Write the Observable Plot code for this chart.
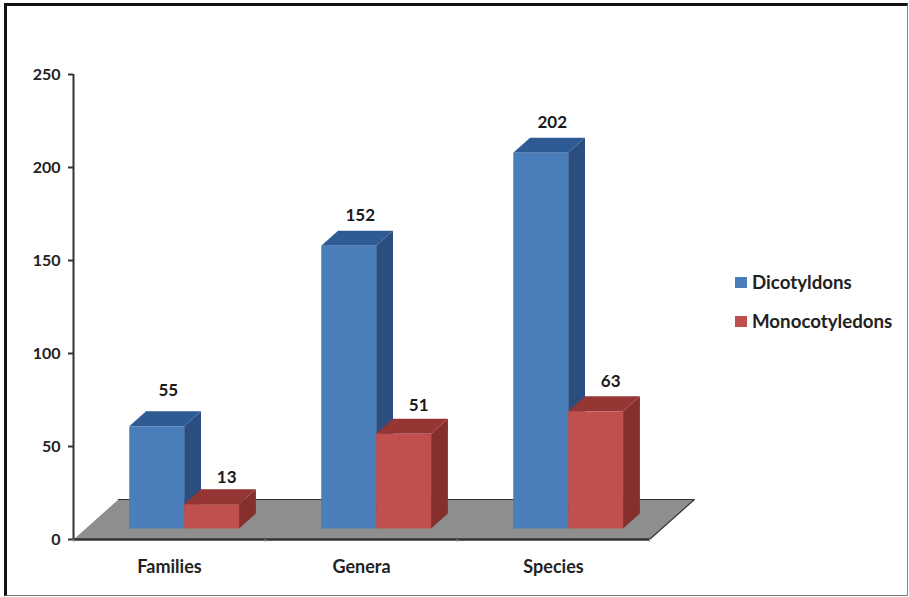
<!DOCTYPE html>
<html>
<head>
<meta charset="utf-8">
<script src="https://cdn.jsdelivr.net/npm/d3@7"></script>
<script src="https://cdn.jsdelivr.net/npm/@observablehq/plot@0.6"></script>
<style>
  html, body { margin: 0; background: #fff; }
  #chart { position: relative; width: 909px; height: 597px; overflow: hidden; font-family: Lato, sans-serif; }
  #chart svg { display: block; }
  #frame { position: absolute; left: 4px; top: 3px; right: 1px; bottom: 1px; pointer-events: none;
           border-left: 3px solid #111; border-top: 3px solid #111; border-right: 1px solid #888; border-bottom: 1px solid #777; }
  .key { position: absolute; left: 735px; display: flex; align-items: center; gap: 5px; font-weight: 700; font-size: 18.7px; color: #222; }
  .key i { display: block; width: 12px; height: 11px; }
</style>
</head>
<body>
<div id="chart"></div>
<script>
// Plant group counts by taxonomic rank
const categories = ["Families", "Genera", "Species"];
const dicotyledons = [55, 152, 202];
const monocotyledons = [13, 51, 63];
const yTicks = [0, 50, 100, 150, 200, 250];
const seriesNames = ["Dicotyldons", "Monocotyledons"];
const seriesValues = [dicotyledons, monocotyledons];

// Face colours per series: front, top, side
const faces = [
  {front: "#4a7ebb", top: "#2f5b95", side: "#2c4d7f"},
  {front: "#c0504d", top: "#963634", side: "#85302d"}
];
const floorColor = "#8e8e8e";

// Oblique projection: depth runs from the front (0) to the back (1) of the floor
const depthX = 0.234;   // category units per unit of depth
const depthY = 21.5;    // value units per unit of depth
const project = (x, v, d) => ({x: x + d * depthX, y: v + d * depthY});

const barWidth = 0.286;
const barStart = 0.226;
const barNear = 0.275;
const barFar = 0.65;

const polygon = (id, fill, corners) =>
  corners.map(([x, v, d]) => ({id, fill, ...project(x, v, d)}));

// Floor plane
const floor = polygon("floor", floorColor, [[0, 0, 0], [3, 0, 0], [3, 0, 1], [0, 0, 1]]);
const floorEdge = [project(0, 0, 1), project(3, 0, 1), project(3, 0, 0)];

// Each cluster from left to right so nearer faces overdraw
const shapes = [];
categories.forEach((_, c) => {
  seriesValues.forEach((values, s) => {
    const v = values[c];
    const x0 = c + barStart + s * barWidth;
    const x1 = x0 + barWidth;
    const key = `${c}-${s}`;
    shapes.push(...polygon(key + "side", faces[s].side, [[x1, 0, barNear], [x1, 0, barFar], [x1, v, barFar], [x1, v, barNear]]));
    shapes.push(...polygon(key + "top", faces[s].top, [[x0, v, barNear], [x1, v, barNear], [x1, v, barFar], [x0, v, barFar]]));
    shapes.push(...polygon(key + "front", faces[s].front, [[x0, 0, barNear], [x1, 0, barNear], [x1, v, barNear], [x0, v, barNear]]));
  });
});

// Value labels sit above the back edge of each bar's top face; a few get a small lift or drop
const labelLift = [[3, -1.5], [0, -0.8], [0, 0]];
const labelShift = [0, 0.018];
const labels = categories.flatMap((_, c) =>
  seriesValues.map((values, s) => {
    const p = project(c + barStart + s * barWidth + barWidth / 2 + labelShift[s], values[c], (barNear + barFar) / 2 + 0.07);
    return {x: p.x, y: values[c] + barFar * depthY + labelLift[c][s], text: String(values[c])};
  })
);

const plot = Plot.plot({
  width: 909,
  height: 597,
  marginLeft: 73,
  marginRight: 260,
  marginTop: 74,
  marginBottom: 58,
  style: {background: "#fff", fontFamily: "Lato, sans-serif"},
  x: {domain: [0, 3], label: null},
  y: {domain: [0, 250], label: null},
  color: {type: "identity"},
  marks: [
    Plot.line(floor, {x: "x", y: "y", z: "id", fill: "fill", stroke: "none", curve: "linear-closed"}),
    Plot.line(floorEdge, {x: "x", y: "y", stroke: "#333", strokeWidth: 1.2}),
    Plot.line(shapes, {x: "x", y: "y", z: "id", fill: "fill", stroke: "none", curve: "linear-closed"}),
    Plot.ruleX([0], {y1: 0, y2: 250, stroke: "#333", strokeWidth: 2}),
    Plot.ruleY([0], {x1: 0, x2: 3, stroke: "#333", strokeWidth: 2.5}),
    Plot.axisY({ticks: yTicks, tickSize: 5, tickPadding: 8, fontSize: 16, fontWeight: 700, color: "#222", label: null, stroke: "#333", strokeWidth: 2}),
    Plot.axisX({ticks: [0, 1, 2, 3], tickSize: 3, tickFormat: () => "", stroke: "#999", label: null}),
    Plot.axisX({ticks: [0.5, 1.5, 2.5], tickSize: 0, tickPadding: 21, tickFormat: (t) => categories[Math.floor(t)], fontSize: 18, fontWeight: 700, color: "#222", label: null}),
    Plot.text(labels, {x: "x", y: "y", text: "text", dy: -15, fontSize: 17, fontWeight: 700, fill: "#1a1a1a"})
  ]
});

const chart = document.getElementById("chart");
chart.appendChild(plot);

seriesNames.forEach((name, i) => {
  const key = document.createElement("div");
  key.className = "key";
  key.style.top = (i === 0 ? 271 : 310) + "px";
  const swatch = document.createElement("i");
  swatch.style.background = faces[i].front;
  key.append(swatch, name);
  chart.appendChild(key);
});

const frame = document.createElement("div");
frame.id = "frame";
chart.appendChild(frame);
</script>
</body>
</html>
